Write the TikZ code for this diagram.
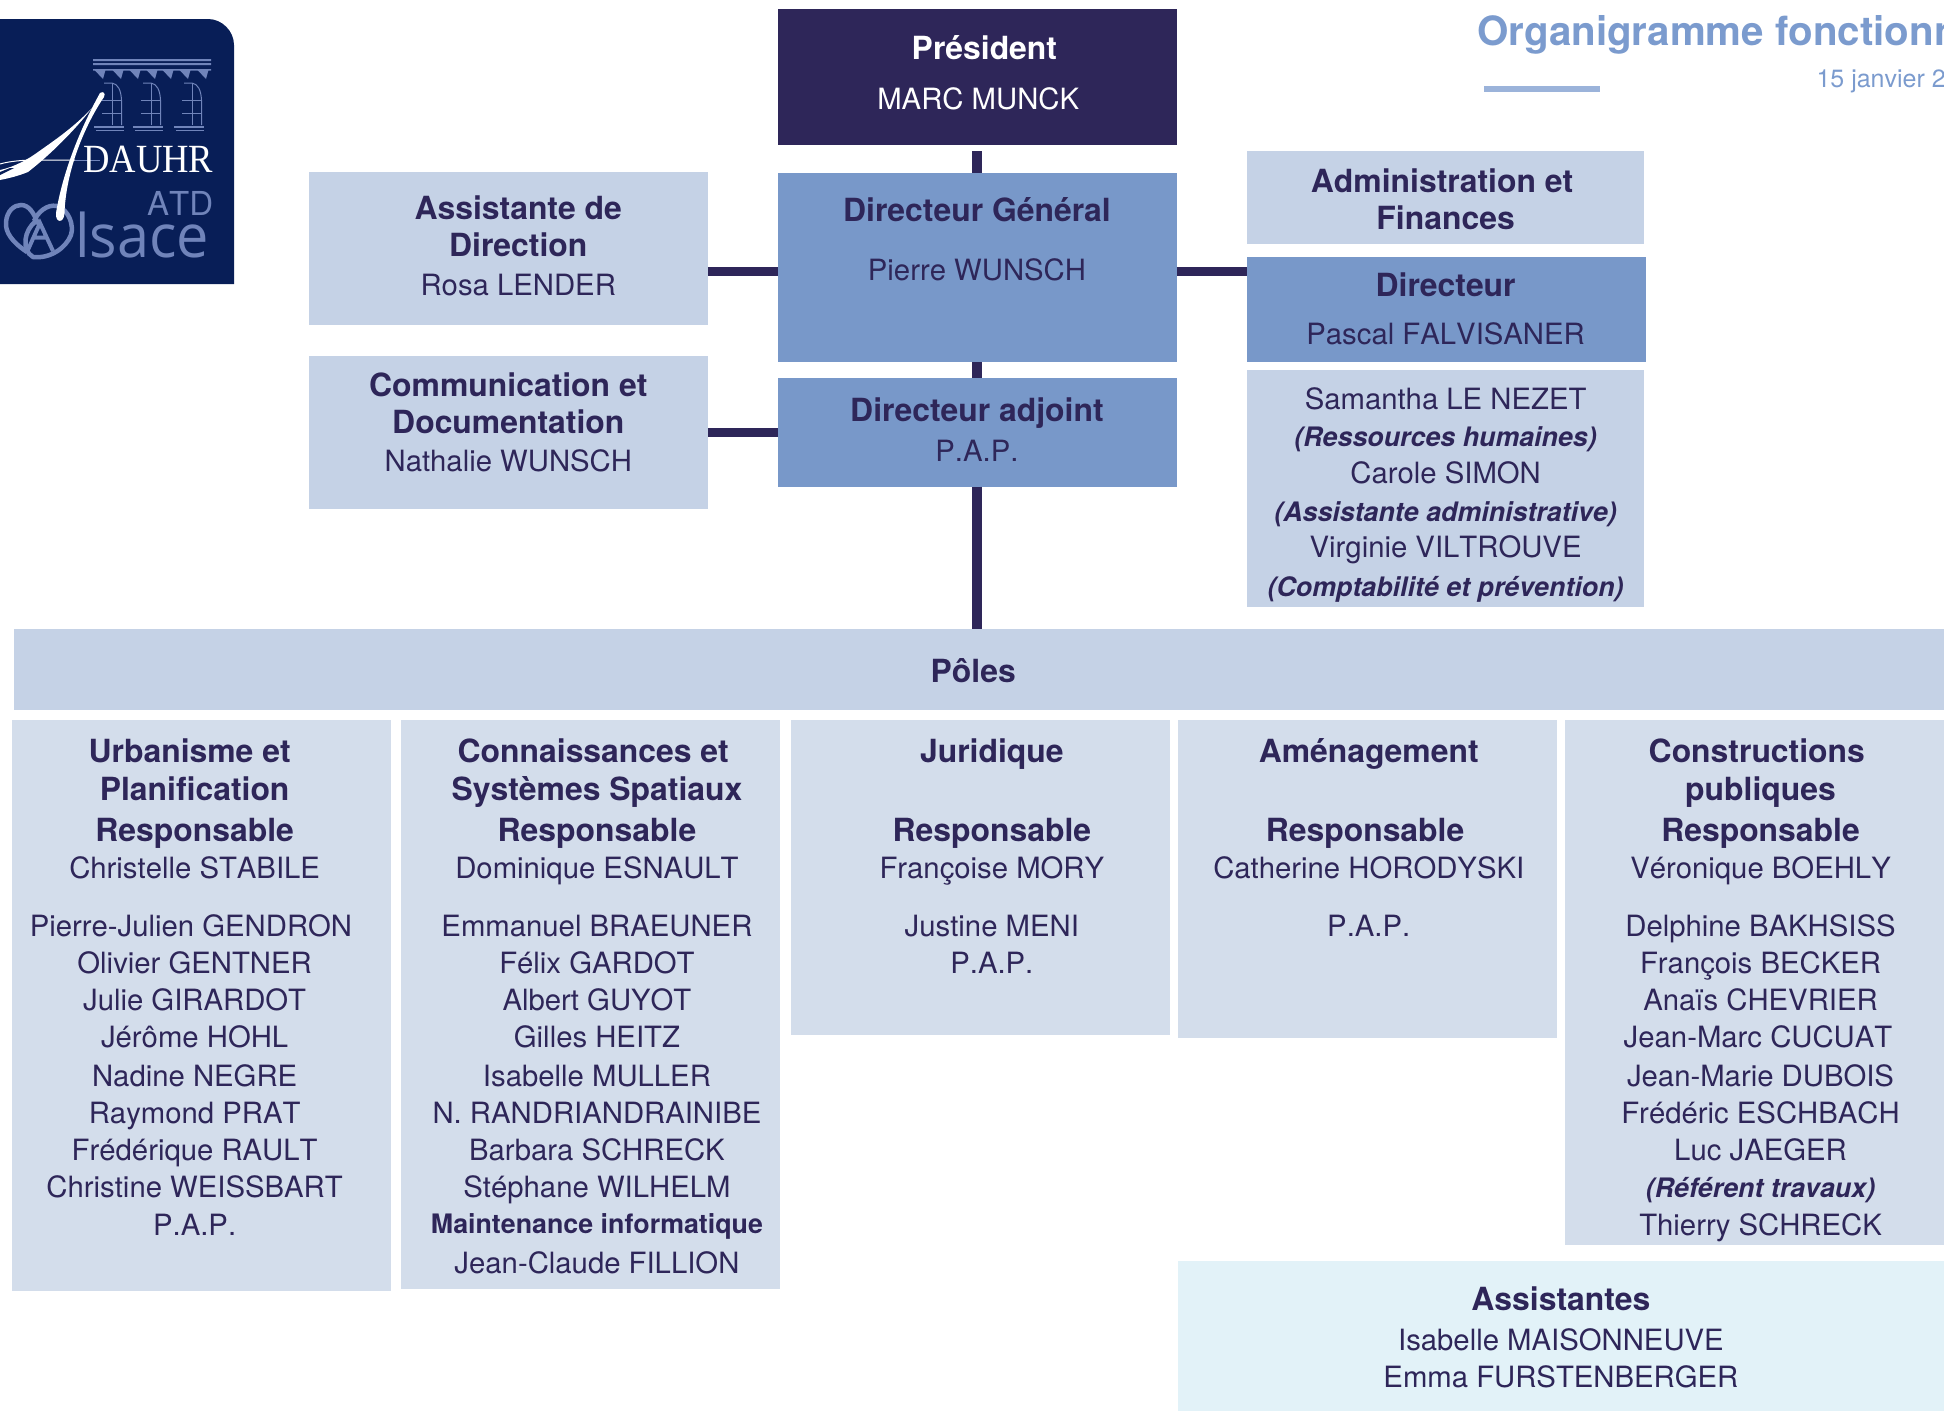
\documentclass[tikz,border=0pt]{standalone}
\usepackage{fontspec}
\setmainfont[Kerning=Off]{TeX Gyre Heros}
\newfontfamily\logoserif{Liberation Serif}
\newfontfamily\logosans{Open Sans}
\usetikzlibrary{fit}
\definecolor{ink}{HTML}{2E2659}
\definecolor{midblue}{HTML}{7898C9}
\definecolor{lightblue}{HTML}{C5D2E6}
\definecolor{paleblue}{HTML}{D3DDEB}
\definecolor{aqua}{HTML}{E2F2F8}
\definecolor{titleblue}{HTML}{7B9BCE}
\definecolor{ruleblue}{HTML}{9BB3DA}
\definecolor{navy}{HTML}{081E57}
\definecolor{logoblue}{HTML}{7084BA}
\newcommand{\hd}[1]{{\fontsize{31.9}{37.2}\selectfont\bfseries #1}}
\newcommand{\bi}[1]{{\fontsize{26.8}{37.2}\selectfont\bfseries\itshape #1}}
\newcommand{\bs}[1]{{\fontsize{26.8}{37.2}\selectfont\bfseries #1}}
\newcommand{\stt}{\vrule height 26pt depth 0pt width 0pt\relax}
\newcommand{\tr}[1]{\rule{#1pt}{0pt}}
\tikzset{
  box/.style={inner sep=0pt,outer sep=0pt,draw=none},
  dark/.style={box,fill=ink},
  mid/.style={box,fill=midblue},
  light/.style={box,fill=lightblue},
  pale/.style={box,fill=paleblue},
  pool/.style={box,fill=aqua},
  label/.style={inner sep=0pt,outer sep=0pt,anchor=north,align=center,text=ink,
    font=\fontsize{29.3}{37.2}\selectfont},
  hlink/.style={draw=ink,line width=8.4pt},
  vlink/.style={draw=ink,line width=9.6pt},
}
\newcommand{\bx}[6]{\node[#2,fit={(#3,#4)(#5,#6)}] (#1) {};}
\begin{document}
\begin{tikzpicture}[x=1.2398pt,y=-1.2398pt]
\useasboundingbox (0,0) rectangle (1568,1138);
% boxes
\bx{pres}{dark}{627.5}{7}{949}{117}
\bx{dg}{mid}{627.5}{139.5}{949}{292}
\bx{adj}{mid}{627.5}{305}{949}{392.5}
\bx{assist}{light}{249}{139}{571}{262}
\bx{comm}{light}{249}{287}{571}{410.5}
\bx{admin}{light}{1006}{122}{1326}{197}
\bx{dir}{mid}{1006}{207}{1328}{292}
\bx{staff}{light}{1006}{298.5}{1326}{489.5}
\bx{poles}{light}{11}{507}{1568}{573}
\bx{urb}{pale}{10}{581}{315}{1041}
\bx{con}{pale}{323.5}{581}{629}{1039.5}
\bx{jur}{pale}{638}{581}{944}{834.5}
\bx{ame}{pale}{950}{581}{1256}{837}
\bx{cons}{pale}{1262}{581}{1568}{1004.5}
\bx{asst}{pool}{950}{1017}{1568}{1138}
% connectors
\coordinate (ja) at (0,219);
\draw[vlink,shorten <=6.3pt] (pres.south) -- (dg.north);
\draw[vlink] (dg.south) -- (adj.north);
\draw[vlink] (adj.south) -- (adj.south |- poles.north);
\draw[hlink] (assist.east |- ja) -- (dg.west |- ja);
\draw[hlink] (dg.east |- ja) -- (dir.west |- ja);
\draw[hlink] (comm.east) -- (adj.west);
% texts
\node[label,text=white] (tpres) at (789,27) {\stt\tr{12.4}\hd{Président}\\[12.4pt]MARC MUNCK};
\node[label] (tdg) at (788,158) {\stt\hd{Directeur Général}\\[21pt]Pierre WUNSCH};
\node[label] (tadj) at (788,319) {\stt\hd{Directeur adjoint}\\[2.5pt]P.A.P.};
\node[label] (tassist) at (418,156) {\stt\hd{Assistante de}\\\hd{Direction}\\[1.2pt]Rosa LENDER};
\node[label] (tcomm) at (410,299) {\stt\hd{Communication et}\\\hd{Documentation}\\Nathalie WUNSCH};
\node[label] (tadmin) at (1166,134.5) {\stt\hd{Administration et}\tr{7}\\\hd{Finances}};
\node[label] (tdir) at (1166,218) {\stt\hd{Directeur}\\[10.8pt]Pascal FALVISANER};
\node[label] (tstaff) at (1166,309) {\stt Samantha LE NEZET\\\bi{(Ressources humaines)}\\Carole SIMON\\[1.2pt]\bi{(Assistante administrative)}\\[-1.2pt]Virginie VILTROUVE\\[1.2pt]\bi{(Comptabilité et prévention)}};
\node[label,anchor=base] (tpoles) at (785,550.5) {\hd{Pôles}};
\node[label] (turb) at (157,594) {\stt\hd{Urbanisme et}\tr{10}\\[1.2pt]\hd{Planification}\\[3.7pt]\hd{Responsable}\\Christelle STABILE\\[20.2pt]Pierre-Julien GENDRON\tr{7.4}\\Olivier GENTNER\\Julie GIRARDOT\\Jérôme HOHL\\[1.2pt]Nadine NEGRE\\Raymond PRAT\\Frédérique RAULT\\Christine WEISSBART\\P.A.P.};
\node[label] (tcon) at (481.5,594) {\stt\hd{Connaissances et}\tr{7.4}\\[1.2pt]\hd{Systèmes Spatiaux}\\[3.7pt]\hd{Responsable}\\Dominique ESNAULT\\[20.2pt]Emmanuel BRAEUNER\\Félix GARDOT\\Albert GUYOT\\Gilles HEITZ\\[1.2pt]Isabelle MULLER\\N. RANDRIANDRAINIBE\\Barbara SCHRECK\\Stéphane WILHELM\\[-1.6pt]\bs{Maintenance informatique}\\[2.5pt]Jean-Claude FILLION};
\node[label] (tjur) at (800,594) {\stt\hd{Juridique}\\[1.2pt]~\\[3.7pt]\hd{Responsable}\\Françoise MORY\\[20.2pt]Justine MENI\\P.A.P.};
\node[label] (tame) at (1104,594) {\stt\hd{Aménagement}\\[1.2pt]~\\[3.7pt]\hd{Responsable}\tr{7.4}\\Catherine HORODYSKI\\[20.2pt]P.A.P.};
\node[label] (tcons) at (1420,594) {\stt\hd{Constructions}\tr{7.4}\\[1.2pt]\hd{publiques}\\[3.7pt]\hd{Responsable}\\Véronique BOEHLY\\[20.2pt]Delphine BAKHSISS\\François BECKER\\Anaïs CHEVRIER\\Jean-Marc CUCUAT\tr{5}\\[1.2pt]Jean-Marie DUBOIS\\Frédéric ESCHBACH\\Luc JAEGER\\\bi{(Référent travaux)}\\[0.6pt]Thierry SCHRECK};
\node[label] (tasst) at (1259,1036) {\stt\hd{Assistantes}\\[2.5pt]Isabelle MAISONNEUVE\\Emma FURSTENBERGER};
% title
\node[anchor=base west,inner sep=0pt,text=titleblue,font=\fontsize{40.3}{44}\selectfont\bfseries] (title) at (1191.5,36.8) {Organigramme fonctionn};
\node[anchor=base west,inner sep=0pt,text=titleblue,font=\fontsize{25}{30}\selectfont] (date) at (1465,70.4) {15 janvier 2};
\fill[ruleblue] (1197,69.4) rectangle (1290.7,74.2);
% logo (reference pixels)
\begin{scope}[x=1pt,y=-1pt]
\fill[navy] (0,19) -- (208,19) .. controls (222,19) and (234,31) .. (234,45) -- (234,284) -- (0,284) -- cycle;
\fill[logoblue] (93,59) rectangle (211,61) (93,63) rectangle (211,65) (93,69) rectangle (211,70.5);
\foreach \tx in {100,118,135,152,168,185,203}{
  \fill[logoblue] (\tx-5.5,70) -- (\tx+5.5,70) -- (\tx+3,79) -- cycle;
}
\foreach \wx in {0,39,80}{
  \begin{scope}[xshift=\wx pt]
  \draw[logoblue,line width=1pt] (104,83) -- (112,83) .. controls (118,84) and (121,90) .. (121.5,100) -- (121.5,125);
  \draw[logoblue,line width=1pt] (112,83) -- (112,125) (102,100) -- (121,100) (102,113) -- (121,113);
  \draw[logoblue,line width=1.6pt] (94,127) -- (124,127);
  \draw[logoblue,line width=1pt] (96,130) -- (124,130);
  \end{scope}
}
% emblem
\draw[logoblue,line width=4.5pt] (27,252) .. controls (12,242) and (5,232) .. (6,222) .. controls (7,211) and (14,205) .. (21,205) .. controls (29,205) and (34,213) .. (38,224);
\draw[logoblue,line width=4.5pt] (36,221) .. controls (24,230) and (21,250) .. (33,257) .. controls (50,259) and (66,248) .. (71,235) .. controls (74,225) and (69,210) .. (57,206) .. controls (47,204) and (38,212) .. (34,221);
\draw[logoblue,line width=4pt] (27,252) -- (40,223) -- (53,251) (32,237.5) -- (48,237.5);
% swoosh
\draw[white,line width=1pt] (0,164) .. controls (10,161) and (25,160) .. (35,160) -- (75,160);
\draw[logoblue,line width=1pt] (75,160) -- (100,160);
\fill[white] (0,170) .. controls (15,167) and (30,158) .. (38,152) .. controls (58,138) and (75,126) .. (92,108) .. controls (75,130) and (50,155) .. (28,172) .. controls (18,176) and (10,178) .. (0,180) -- cycle;
\fill[navy] (0,172) -- (10,168) -- (14,168) -- (0,175) -- cycle;
\fill[white] (100,93) .. controls (85,120) and (64,165) .. (56,213) .. controls (55,223) and (64,224) .. (64.5,213) .. controls (66,170) and (85,125) .. (104,97) .. controls (106,93) and (103,91) .. (100,93) -- cycle;
\node[anchor=base west,inner sep=0pt,text=white,font=\fontsize{40}{44}\logoserif] (dauhr) at (83,172) {\scalebox{.915}[1]{DAUHR}};
\node[anchor=base west,inner sep=0pt,text=logoblue,font=\fontsize{33}{36}\selectfont] (atd) at (147,215) {ATD};
\node[anchor=base west,inner sep=0pt,text=logoblue,font=\fontsize{60}{64}\logosans] (lsace) at (75,257) {\scalebox{.96}[1]{lsace}};
\end{scope}
\end{tikzpicture}
\end{document}
